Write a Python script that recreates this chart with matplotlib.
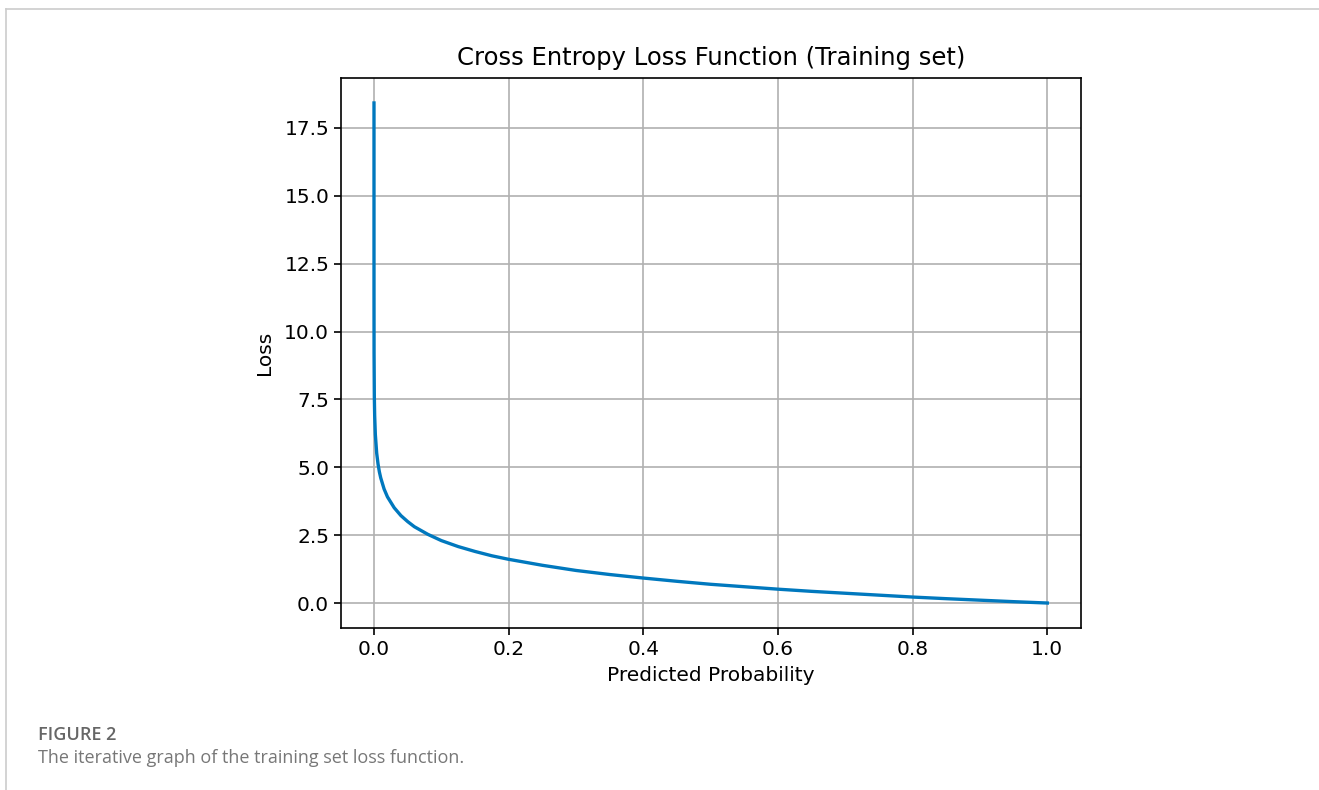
import matplotlib
matplotlib.use("Agg")
import matplotlib.pyplot as plt
from matplotlib.lines import Line2D

# values
prob = [1e-8, 1e-7, 1e-6, 1e-5, 1e-4, 5e-4, 0.001, 0.002, 0.004, 0.006, 0.008,
        0.01, 0.015, 0.02, 0.03, 0.04, 0.05, 0.06, 0.08, 0.10, 0.125, 0.15,
        0.175, 0.20, 0.25, 0.30, 0.35, 0.40, 0.45, 0.50, 0.55, 0.60, 0.65,
        0.70, 0.75, 0.80, 0.85, 0.90, 0.95, 1.00]
loss = [18.42, 16.12, 13.82, 11.51, 9.21, 7.60, 6.91, 6.21, 5.52, 5.12, 4.83,
        4.61, 4.20, 3.91, 3.51, 3.22, 3.00, 2.81, 2.53, 2.30, 2.08, 1.90,
        1.74, 1.61, 1.39, 1.20, 1.05, 0.92, 0.80, 0.69, 0.60, 0.51, 0.43,
        0.36, 0.29, 0.22, 0.16, 0.105, 0.05, 0.0]

title = "Cross Entropy Loss Function (Training set)"
xlabel = "Predicted Probability"
ylabel = "Loss"
fig_label = "FIGURE 2"
caption = "The iterative graph of the training set loss function."

fig = plt.figure(figsize=(13.19, 7.9), dpi=100)
W, H = 1319, 790

ax = fig.add_axes([341 / W, 1 - 628 / H, (1081 - 341) / W, (628 - 78) / H])
ax.plot(prob, loss, color="#0078be", linewidth=2.4)
ax.set_xlim(-0.049, 1.05)
ax.set_ylim(-0.92, 19.34)
ax.set_xticks([0.0, 0.2, 0.4, 0.6, 0.8, 1.0])
ax.set_yticks([0.0, 2.5, 5.0, 7.5, 10.0, 12.5, 15.0, 17.5])
ax.grid(True, color="#b0b0b0", linewidth=1.2)
ax.set_axisbelow(True)
ax.tick_params(labelsize=14.5, length=5, width=1.2)
for s in ax.spines.values():
    s.set_linewidth(1.2)
ax.set_title(title, fontsize=17.5, pad=9)
ax.set_xlabel(xlabel, fontsize=14.5, labelpad=5)
ax.set_ylabel(ylabel, fontsize=14.5, labelpad=7)

# page frame lines (top and left)
fig.add_artist(Line2D([6 / W, 1.0], [1 - 9 / H, 1 - 9 / H], color="#cccccc", linewidth=1.2))
fig.add_artist(Line2D([6 / W, 6 / W], [1 - 9 / H, 0.0], color="#cccccc", linewidth=1.2))

fig.text(38 / W, 1 - 735 / H, fig_label, fontsize=13, color="#666666",
         family="Open Sans", fontweight="semibold", va="center")
fig.text(38 / W, 1 - 758 / H, caption, fontsize=13, color="#777777",
         family="Open Sans", va="center")

fig.savefig("out.png", dpi=100)
